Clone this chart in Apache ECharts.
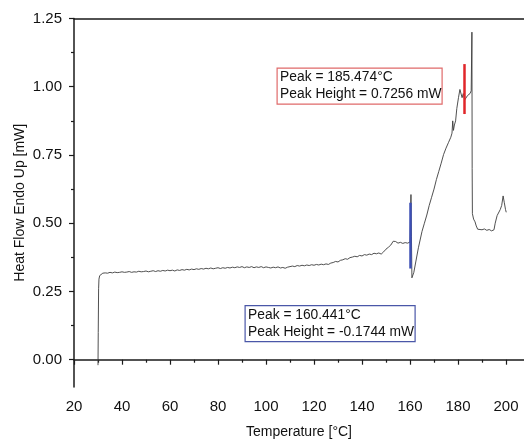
<!DOCTYPE html>
<html>
<head>
<meta charset="utf-8">
<script src="https://cdn.jsdelivr.net/npm/echarts@6/dist/echarts.min.js"></script>
<style>
html,body{margin:0;padding:0;background:#fff;}
#c{width:524px;height:439px;}
</style>
</head>
<body>
<div id="c"></div>
<script>
// ---- data ----
var temps = [30.0,30.1,30.25,30.4,30.7,31.2,32,33,34,35,36,37,38,39,40,41,42,43,44,45,46,47,48,49,50,51,52,53,54,55,56,57,58,59,60,61,62,63,64,65,66,67,68,69,70,71,72,73,74,75,76,77,78,79,80,81,82,83,84,85,86,87,88,89,90,91,92,93,94,95,96,97,98,99,100,101,102,103,104,105,106,107,108,109,110,111,112,113,114,115,116,117,118,119,120,121,122,123,124,125,126,127,128,129,130,131,132,133,134,135,136,137,138,139,140,141,142,143,144,145,146,147,148,149,150,151,152,153,153.5,154,155,156,157,158,159,160,160.4,160.6,160.8,161.1,161.6,162.4,163.5,165,166,167,168,169,170,171,172,173,174,175,176,177,177.5,177.8,178.1,178.5,179,179.5,180.2,180.8,181.2,181.7,182.2,182.8,183.3,184,185,185.5,185.8,185.9,186.0,186.5,187.1,187.6,188.2,189,190,191,192,193,194,195,195.5,196.3,197,197.6,198.2,198.8,199.3,199.8,200.1];
var heatFlow = [-0.02,0.10,0.26,0.295,0.308,0.314,0.317,0.318,0.317,0.320,0.318,0.321,0.319,0.320,0.322,0.320,0.321,0.323,0.320,0.322,0.321,0.324,0.322,0.323,0.325,0.322,0.324,0.326,0.323,0.326,0.324,0.327,0.325,0.328,0.326,0.328,0.325,0.329,0.327,0.330,0.328,0.331,0.329,0.332,0.330,0.333,0.331,0.334,0.332,0.335,0.333,0.336,0.333,0.335,0.337,0.334,0.337,0.335,0.338,0.336,0.339,0.337,0.340,0.338,0.341,0.337,0.340,0.338,0.341,0.337,0.340,0.338,0.341,0.337,0.340,0.338,0.336,0.339,0.337,0.340,0.336,0.338,0.335,0.339,0.341,0.343,0.341,0.345,0.343,0.346,0.344,0.347,0.345,0.348,0.346,0.349,0.347,0.350,0.348,0.351,0.349,0.354,0.356,0.360,0.358,0.364,0.366,0.370,0.368,0.374,0.376,0.379,0.377,0.382,0.380,0.385,0.383,0.387,0.385,0.390,0.388,0.391,0.387,0.395,0.405,0.412,0.420,0.434,0.430,0.433,0.427,0.430,0.426,0.429,0.427,0.431,0.605,0.45,0.30,0.295,0.32,0.358,0.41,0.47,0.50,0.53,0.565,0.595,0.625,0.66,0.69,0.72,0.752,0.775,0.795,0.815,0.83,0.875,0.84,0.86,0.875,0.92,0.96,0.99,0.985,0.96,0.975,0.952,0.955,0.968,0.975,0.985,1.20,0.70,0.535,0.515,0.505,0.49,0.478,0.482,0.476,0.479,0.474,0.477,0.472,0.476,0.50,0.528,0.535,0.55,0.565,0.60,0.575,0.55,0.54];
var xTickLabels = [20,40,60,80,100,120,140,160,180,200];
var xMinorTicks = [30,50,70,90,110,130,150,170,190];
var yTickLabels = [0,0.25,0.5,0.75,1.0,1.25];
var yMinorTicks = [0.125,0.375,0.625,0.875,1.125];
var redMarker = {x:182.5, y0:0.90, y1:1.083};
var blueMarker = {x:160.1, y0:0.334, y1:0.575};
var redBoxText = ['Peak = 185.474°C','Peak Height = 0.7256 mW'];
var blueBoxText = ['Peak = 160.441°C','Peak Height = -0.1744 mW'];

var FONT = 'Liberation Sans, Arial, sans-serif';
var points = temps.map(function(t,i){return [t, heatFlow[i]];});

var chart = echarts.init(document.getElementById('c'), null, {renderer:'canvas'});
var xMin = 20, xMax = 207.5, yMin = -0.1, yMax = 1.25;
var lineCol = '#1a1a1a';

chart.setOption({
  animation:false,
  backgroundColor:'#fff',
  grid:{left:74, right:0, top:18.5, bottom:52, containLabel:false, outerBoundsMode:'none'},
  xAxis:[
    {type:'value', position:'bottom', min:xMin, max:xMax,
     name:'Temperature [°C]', nameLocation:'middle', nameGap:38, nameMoveOverlap:false,
     nameTextStyle:{fontFamily:FONT, fontSize:14, color:'#111'},
     axisLine:{show:true, lineStyle:{color:lineCol, width:1.5}},
     axisTick:{show:true, customValues:xTickLabels, length:5, lineStyle:{color:lineCol, width:1.2}},
     axisLabel:{customValues:xTickLabels, margin:12, fontFamily:FONT, fontSize:15, color:'#111'},
     splitLine:{show:false}},
    {type:'value', position:'bottom', min:xMin, max:xMax,
     axisLine:{show:false},
     axisTick:{show:true, customValues:xMinorTicks, length:3, lineStyle:{color:lineCol, width:1.2}},
     axisLabel:{show:false}, splitLine:{show:false}},
    {type:'value', position:'top', min:xMin, max:xMax,
     axisLine:{show:true, lineStyle:{color:lineCol, width:1.5}},
     axisTick:{show:false}, axisLabel:{show:false}, splitLine:{show:false}}
  ],
  yAxis:[
    {type:'value', position:'left', min:yMin, max:yMax,
     name:'Heat Flow Endo Up [mW]', nameLocation:'middle', nameGap:47, nameMoveOverlap:false,
     nameTextStyle:{fontFamily:FONT, fontSize:14, color:'#111'},
     axisLine:{show:true, lineStyle:{color:lineCol, width:1.5}},
     axisTick:{show:true, customValues:yTickLabels, length:5, lineStyle:{color:lineCol, width:1.2}},
     axisLabel:{customValues:yTickLabels, margin:12, fontFamily:FONT, fontSize:15, color:'#111',
       formatter:function(v){return v.toFixed(2);}},
     splitLine:{show:false}},
    {type:'value', position:'left', min:yMin, max:yMax,
     axisLine:{show:false},
     axisTick:{show:true, customValues:yMinorTicks, length:3, lineStyle:{color:lineCol, width:1.2}},
     axisLabel:{show:false}, splitLine:{show:false}}
  ],
  series:[
    {type:'line', xAxisIndex:0, yAxisIndex:0, data:points, showSymbol:false, symbol:'none',
     lineStyle:{color:'#3c3c3c', width:0.9}, z:3,
     markLine:{silent:true, symbol:['none','none'], label:{show:false},
       data:[
         [{coord:[redMarker.x, redMarker.y0], lineStyle:{color:'#e0262a', width:2.5, type:'solid'}},
          {coord:[redMarker.x, redMarker.y1]}],
         [{coord:[blueMarker.x, blueMarker.y0], lineStyle:{color:'#3d4fb5', width:2.5, type:'solid'}},
          {coord:[blueMarker.x, blueMarker.y1]}]
       ]}}
  ],
  graphic:[
    {type:'group', left:276.5, top:67.5, children:[
      {type:'rect', shape:{x:0,y:0,width:165,height:36}, style:{fill:'#fff', stroke:'#e06a6a', lineWidth:1.2}},
      {type:'text', x:3, y:9.5, style:{text:redBoxText[0], fontFamily:FONT, fontSize:13.8, fill:'#111', verticalAlign:'middle'}},
      {type:'text', x:3, y:26.5, style:{text:redBoxText[1], fontFamily:FONT, fontSize:13.8, fill:'#111', verticalAlign:'middle'}}
    ]},
    {type:'group', left:244.5, top:305, children:[
      {type:'rect', shape:{x:0,y:0,width:170,height:36}, style:{fill:'#fff', stroke:'#4a57a8', lineWidth:1.2}},
      {type:'text', x:3, y:9.5, style:{text:blueBoxText[0], fontFamily:FONT, fontSize:13.8, fill:'#111', verticalAlign:'middle'}},
      {type:'text', x:3, y:26.8, style:{text:blueBoxText[1], fontFamily:FONT, fontSize:13.8, fill:'#111', verticalAlign:'middle'}}
    ]}
  ]
});
</script>
</body>
</html>
